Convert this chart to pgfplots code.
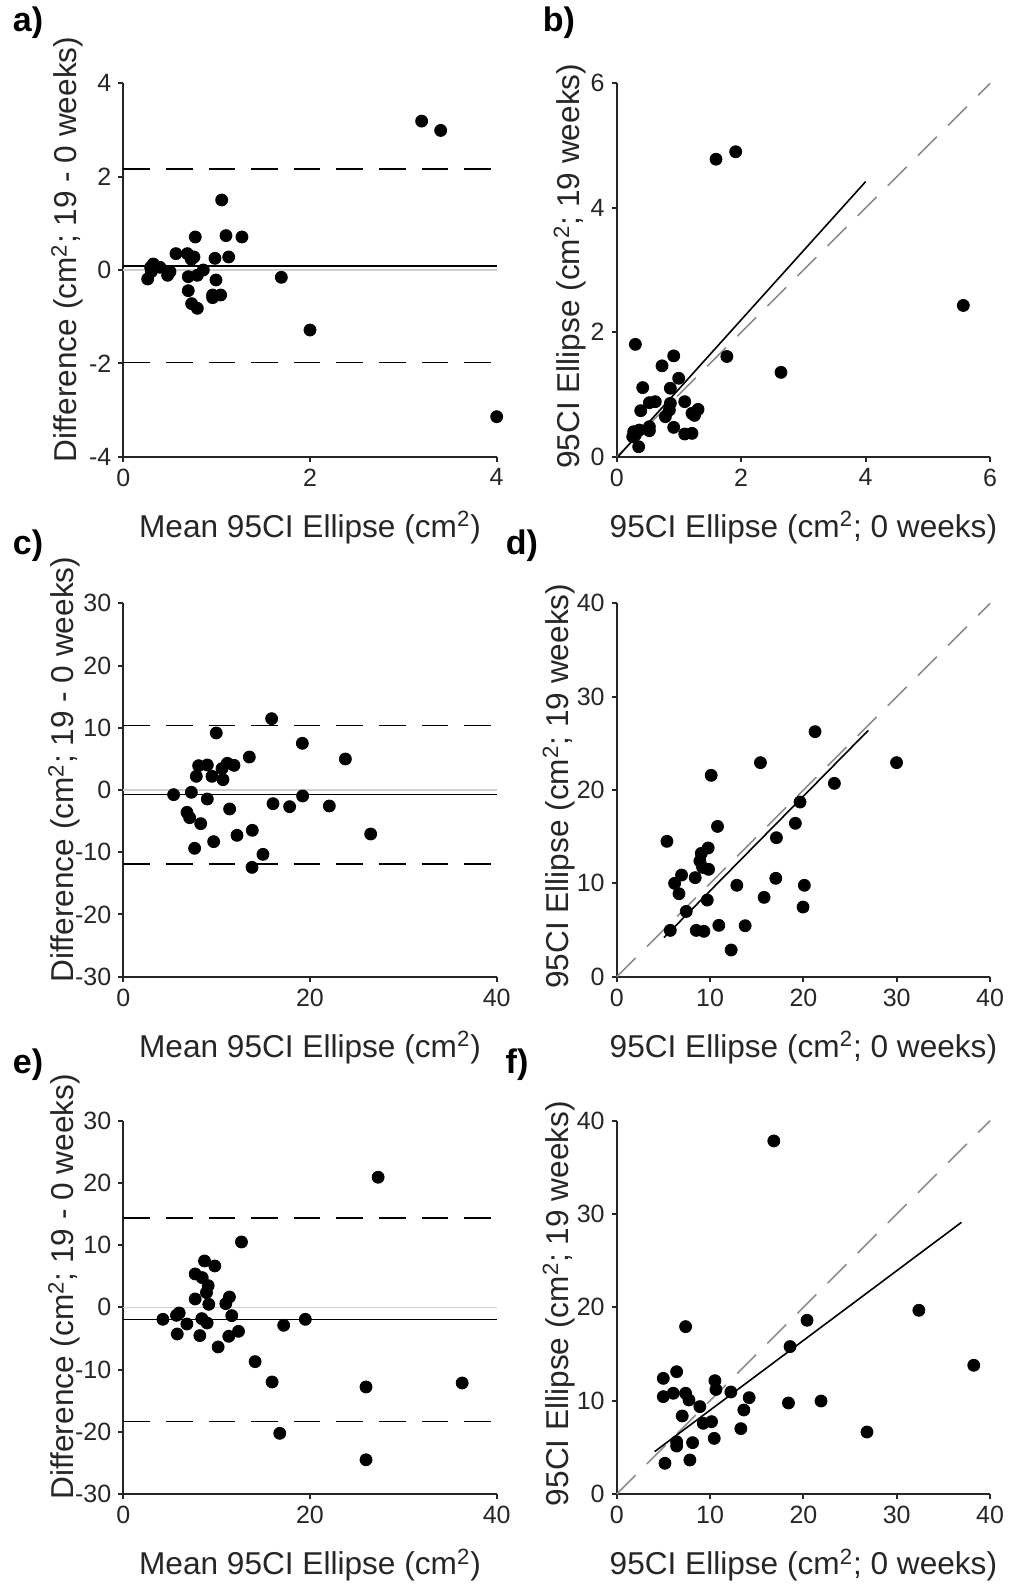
\documentclass[border=0pt]{standalone}
\usepackage{pgfplots}
\pgfplotsset{compat=1.18}
\usepackage{fontspec}
\setmainfont{Liberation Sans}
\definecolor{tc}{HTML}{262626}
\definecolor{zl}{HTML}{D0D0D0}
\definecolor{idl}{HTML}{8C8C8C}
\pgfplotsset{
  myax/.style={
    scale only axis, width=186.7pt, height=186.7pt,
    axis x line*=bottom, axis y line*=left,
    axis line style={draw=tc, line width=1pt},
    tick style={draw=tc, line width=1pt},
    tick align=outside, major tick length=2.5pt,
    minor tick num=0,
    tick label style={font=\fontsize{12.5}{14}\selectfont, text=tc},
    label style={font=\fontsize{15.8}{18}\selectfont, text=tc},
    /pgf/number format/assume math mode=true,
    clip=false,
    xlabel style={at={(axis description cs:0.5,-0.19)}, anchor=center},
  },
  dots/.style={only marks, mark=*, mark size=3pt, mark options={fill=black, draw=black}, black},
  meanl/.style={black, line width=0.8pt, no marks},
  loa/.style={black, line width=0.8pt, no marks, dash pattern=on 13.3pt off 8pt},
  zerol/.style={zl, line width=0.8pt, no marks},
  idline/.style={idl, line width=0.8pt, no marks, dash pattern=on 13.3pt off 8pt},
}
\begin{document}
\begin{tikzpicture}
\path[use as bounding box] (0,0) rectangle (504.5pt,792pt);
% ---------------- a ----------------
\begin{axis}[myax, at={(61.65pt,563.65pt)}, anchor=south west,
  xmin=0, xmax=4, ymin=-4, ymax=4, xtick={0,2,4}, ytick={-4,-2,0,2,4},
  xlabel={Mean 95CI Ellipse (cm\textsuperscript{2})},
  ylabel={Difference (cm\textsuperscript{2}; 19 - 0 weeks)},
  ylabel style={at={(axis description cs:-0.15,0.555)}, anchor=center}]
\addplot[zerol] coordinates {(0,0) (4,0)};
\addplot[dots] coordinates {
(3.196,3.19) (3.40,2.99) (1.054,1.5) (0.771,0.707) (1.10,0.736) (1.271,0.707)
(0.564,0.35) (0.686,0.35) (0.757,0.279) (0.729,0.229) (0.982,0.25) (1.129,0.279)
(0.321,0.129) (0.293,0.057) (0.393,0.057) (0.30,-0.036) (0.261,-0.193) (0.50,-0.036)
(0.475,-0.114) (0.696,-0.143) (0.793,-0.114) (0.857,0) (0.993,-0.214) (0.696,-0.443)
(0.957,-0.536) (0.957,-0.593) (1.043,-0.536) (0.732,-0.721) (0.793,-0.821)
(1.693,-0.157) (2.0,-1.286) (4.0,-3.143)};
\addplot[meanl] coordinates {(0,0.086) (4,0.086)};
\addplot[loa] coordinates {(0,2.17) (4,2.17)};
\addplot[loa] coordinates {(0,-1.986) (4,-1.986)};
\end{axis}
% ---------------- b ----------------
\begin{axis}[myax, at={(308.35pt,563.65pt)}, anchor=south west,
  xmin=0, xmax=6, ymin=0, ymax=6, xtick={0,2,4,6}, ytick={0,2,4,6},
  xlabel={95CI Ellipse (cm\textsuperscript{2}; 0 weeks)},
  ylabel={95CI Ellipse (cm\textsuperscript{2}; 19 weeks)},
  ylabel style={at={(axis description cs:-0.125,0.51)}, anchor=center}]
\addplot[idline] coordinates {(0,0) (6,6)};
\addplot[dots] coordinates {
(1.596,4.78) (1.912,4.90) (5.57,2.43) (0.30,1.805) (0.916,1.62) (1.77,1.61)
(2.64,1.355) (0.728,1.46) (0.996,1.26) (0.418,1.11) (0.862,1.10) (0.525,0.868)
(0.62,0.884) (0.862,0.857) (1.093,0.884) (0.386,0.739) (0.846,0.75) (0.782,0.643)
(1.21,0.696) (1.307,0.76) (1.25,0.664) (0.525,0.482) (0.525,0.418) (0.916,0.471)
(1.093,0.364) (1.21,0.375) (0.273,0.402) (0.364,0.428) (0.257,0.321) (0.30,0.35)
(0.353,0.16)};
\addplot[meanl] coordinates {(0.02,0) (4,4.42)};
\end{axis}
% ---------------- c ----------------
\begin{axis}[myax, at={(61.65pt,303.65pt)}, anchor=south west,
  xmin=0, xmax=40, ymin=-30, ymax=30, xtick={0,20,40}, ytick={-30,-20,...,30},
  xlabel={Mean 95CI Ellipse (cm\textsuperscript{2})},
  ylabel={Difference (cm\textsuperscript{2}; 19 - 0 weeks)},
  ylabel style={at={(axis description cs:-0.158,0.555)}, anchor=center}]
\addplot[zerol] coordinates {(0,0) (40,0)};
\addplot[dots] coordinates {
(15.89,11.46) (9.96,9.16) (19.18,7.5) (13.5,5.3) (23.79,4.98) (8.07,3.91)
(9.0,4.02) (11.14,4.29) (11.86,3.96) (10.57,3.43) (7.82,2.2) (9.5,2.2)
(10.68,1.66) (5.39,-0.75) (7.29,-0.37) (9.0,-1.45) (19.21,-0.96) (16.04,-2.2)
(17.82,-2.68) (22.07,-2.57) (11.39,-3.05) (6.82,-3.59) (7.11,-4.45) (8.29,-5.41)
(13.82,-6.48) (26.5,-7.07) (12.18,-7.28) (9.68,-8.3) (7.64,-9.37) (14.96,-10.34)
(13.79,-12.43)};
\addplot[meanl] coordinates {(0,-0.75) (40,-0.75)};
\addplot[loa] coordinates {(0,10.39) (40,10.39)};
\addplot[loa] coordinates {(0,-11.89) (40,-11.89)};
\end{axis}
% ---------------- d ----------------
\begin{axis}[myax, at={(308.35pt,303.65pt)}, anchor=south west,
  xmin=0, xmax=40, ymin=0, ymax=40, xtick={0,10,...,40}, ytick={0,10,...,40},
  xlabel={95CI Ellipse (cm\textsuperscript{2}; 0 weeks)},
  ylabel={95CI Ellipse (cm\textsuperscript{2}; 19 weeks)},
  ylabel style={at={(axis description cs:-0.155,0.51)}, anchor=center}]
\addplot[idline] coordinates {(0,0) (40,40)};
\addplot[dots] coordinates {
(21.25,26.25) (15.4,22.93) (29.98,22.93) (10.12,21.57) (23.32,20.71) (19.64,18.71)
(19.14,16.43) (10.8,16.1) (17.11,14.89) (5.38,14.5) (9.8,13.79) (9.06,13.21)
(8.91,12.39) (9.2,11.71) (9.84,11.5) (6.95,10.89) (8.41,10.61) (17.04,10.54)
(6.2,10.0) (12.87,9.79) (20.1,9.79) (6.67,8.89) (9.7,8.21) (15.79,8.5)
(19.96,7.46) (7.45,6.99) (5.74,4.96) (8.52,4.96) (9.34,4.86) (10.94,5.5)
(13.76,5.46) (12.26,2.86)};
\addplot[meanl] coordinates {(5.06,4.18) (26.95,26.39)};
\end{axis}
% ---------------- e ----------------
\begin{axis}[myax, at={(61.65pt,45pt)}, anchor=south west,
  xmin=0, xmax=40, ymin=-30, ymax=30, xtick={0,20,40}, ytick={-30,-20,...,30},
  xlabel={Mean 95CI Ellipse (cm\textsuperscript{2})},
  ylabel={Difference (cm\textsuperscript{2}; 19 - 0 weeks)},
  ylabel style={at={(axis description cs:-0.158,0.555)}, anchor=center}]
\addplot[zerol] coordinates {(0,0) (40,0)};
\addplot[dots] coordinates {
(27.3,20.9) (12.66,10.5) (8.7,7.45) (9.8,6.64) (7.7,5.36) (8.45,4.77)
(9.09,3.48) (8.91,2.36) (11.37,1.66) (10.98,0.59) (7.7,1.34) (9.16,0.48)
(5.99,-0.91) (5.7,-1.29) (11.62,-1.34) (4.24,-1.93) (8.41,-1.82) (8.98,-2.52)
(6.81,-2.68) (19.5,-1.93) (17.18,-2.89) (12.34,-3.86) (5.78,-4.29) (8.2,-4.55)
(11.3,-4.66) (10.16,-6.37) (14.12,-8.73) (15.94,-12.0) (26.0,-12.8) (36.3,-12.16)
(16.76,-20.25) (26.0,-24.5)};
\addplot[meanl] coordinates {(0,-1.93) (40,-1.93)};
\addplot[loa] coordinates {(0,14.35) (40,14.35)};
\addplot[loa] coordinates {(0,-18.32) (40,-18.32)};
\end{axis}
% ---------------- f ----------------
\begin{axis}[myax, at={(308.35pt,45pt)}, anchor=south west,
  xmin=0, xmax=40, ymin=0, ymax=40, xtick={0,10,...,40}, ytick={0,10,...,40},
  xlabel={95CI Ellipse (cm\textsuperscript{2}; 0 weeks)},
  ylabel={95CI Ellipse (cm\textsuperscript{2}; 19 weeks)},
  ylabel style={at={(axis description cs:-0.155,0.51)}, anchor=center}]
\addplot[idline] coordinates {(0,0) (40,40)};
\addplot[dots] coordinates {
(16.83,37.82) (32.37,19.68) (20.39,18.61) (7.38,17.93) (18.57,15.79) (38.25,13.79)
(6.42,13.1) (4.99,12.39) (10.52,12.14) (10.63,11.2) (6.06,10.79) (7.38,10.79)
(4.99,10.43) (7.74,10.07) (12.23,10.93) (14.19,10.32) (18.4,9.75) (21.89,9.96)
(8.91,9.36) (13.62,9.0) (7.02,8.36) (9.27,7.57) (10.16,7.75) (13.3,7.0)
(26.81,6.64) (10.45,5.96) (6.42,5.6) (6.42,5.14) (8.13,5.5) (7.84,3.64)
(5.17,3.29)};
\addplot[meanl] coordinates {(4.06,4.54) (36.93,29.1)};
\end{axis}
% panel letters
\node[font=\bfseries\fontsize{17}{19}\selectfont] at (14pt,780.5pt) {a)};
\node[font=\bfseries\fontsize{17}{19}\selectfont] at (279.5pt,780.5pt) {b)};
\node[font=\bfseries\fontsize{17}{19}\selectfont] at (14pt,519pt) {c)};
\node[font=\bfseries\fontsize{17}{19}\selectfont] at (261pt,519pt) {d)};
\node[font=\bfseries\fontsize{17}{19}\selectfont] at (14pt,259.5pt) {e)};
\node[font=\bfseries\fontsize{17}{19}\selectfont] at (258.5pt,259.5pt) {f)};
\end{tikzpicture}
\end{document}
